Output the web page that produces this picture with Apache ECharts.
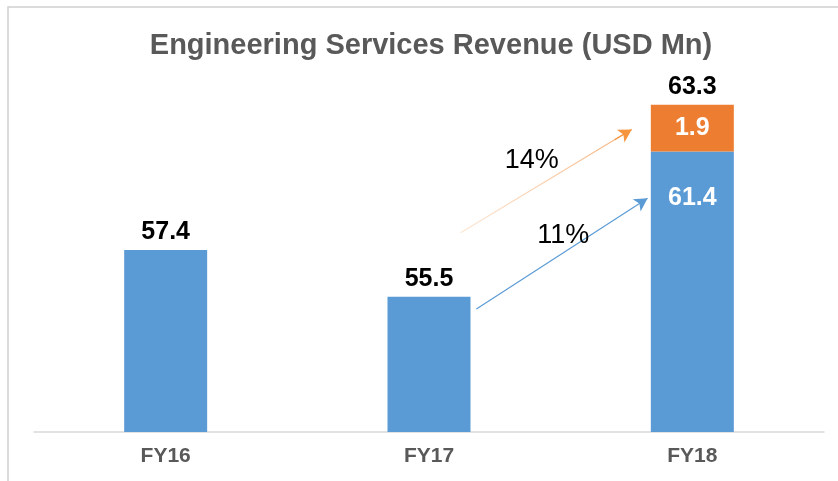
<!DOCTYPE html>
<html>
<head>
<meta charset="utf-8">
<script src="https://cdn.jsdelivr.net/npm/echarts@6/dist/echarts.min.js"></script>
<style>
  html, body { margin: 0; padding: 0; background: #fff; }
</style>
</head>
<body>
<!-- chart box, same size as the window -->
<div id="main" style="width: 838px; height: 481px"></div>
<script>
// data
var categories = ['FY16', 'FY17', 'FY18'];
var baseRevenue = [57.4, 55.5, 61.4];
var addedRevenue = [null, null, 1.9];
var totalRevenue = [null, null, 63.3];
// growth arrows: [start x, start y, end x, end y] in data units (x = category index)
var growthLabels = ['11%', '14%'];
var blueArrow = [1.18, 55.0, 1.83, 59.5];
var orangeArrow = [1.12, 58.1, 1.77, 62.3];
var growthLabelPos = [[1.51, 58.0], [1.39, 61.05]];

var blue = '#5B9BD5';
var orange = '#ED7D31';
var font = '"Liberation Sans", Arial, sans-serif';

var myChart = echarts.init(document.getElementById('main'));

// a bit before the tip, so the head can be drawn solid
function nearTip(a, t) {
  return [a[0] + (a[2] - a[0]) * t, a[1] + (a[3] - a[1]) * t];
}

var option = {
  animation: false,
  title: {
    text: 'Engineering Services Revenue (USD Mn)',
    left: 426,
    textAlign: 'center',
    top: 26,
    textStyle: { fontFamily: font, fontSize: 29, fontWeight: 'bold', color: '#595959' }
  },
  graphic: [{
    type: 'rect',
    shape: { x: 8, y: 7, width: 840, height: 480 },
    style: { fill: 'none', stroke: '#D0D0D0', lineWidth: 1.5 },
    silent: true
  }],
  grid: { left: 34, right: 14, top: 63, bottom: 49 },
  xAxis: [
    {
      type: 'category',
      data: categories,
      axisLine: { lineStyle: { color: '#D9D9D9', width: 1.5 } },
      axisTick: { show: false },
      axisLabel: { margin: 14, fontFamily: font, fontSize: 21, fontWeight: 'bold', color: '#595959' }
    },
    { type: 'value', min: -0.5, max: 2.5, show: false }
  ],
  yAxis: { type: 'value', min: 50, max: 65, show: false },
  series: [
    {
      name: 'base',
      type: 'bar',
      stack: 'rev',
      barWidth: 83,
      itemStyle: { color: blue },
      data: baseRevenue.map(function (v, i) {
        if (addedRevenue[i] == null) return v;
        return {
          value: v,
          label: { position: 'insideTop', distance: 34, color: '#fff' }
        };
      }),
      label: {
        show: true,
        position: 'top',
        distance: 5,
        fontFamily: font, fontSize: 25, fontWeight: 'bold', color: '#000'
      }
    },
    {
      name: 'added',
      type: 'bar',
      stack: 'rev',
      barWidth: 83,
      itemStyle: { color: orange },
      data: addedRevenue,
      label: {
        show: true,
        position: 'inside',
        fontFamily: font, fontSize: 25, fontWeight: 'bold', color: '#fff'
      }
    },
    {
      // zero-height cap on the stack, only carries the total label
      name: 'total',
      type: 'bar',
      stack: 'rev',
      barWidth: 83,
      itemStyle: { color: 'rgba(0,0,0,0)' },
      data: totalRevenue.map(function (v) { return v == null ? null : 0; }),
      label: {
        show: true,
        position: 'top',
        distance: 5,
        formatter: function (p) { return totalRevenue[p.dataIndex]; },
        fontFamily: font, fontSize: 25, fontWeight: 'bold', color: '#000'
      }
    },
    {
      name: 'growth',
      type: 'line',
      xAxisIndex: 1,
      data: [[0, 50]],
      showSymbol: false,
      symbolSize: 0,
      lineStyle: { opacity: 0 },
      markLine: {
        silent: true,
        animation: false,
        symbolSize: [11, 13],
        label: { show: false },
        data: [
          [
            { coord: [blueArrow[0], blueArrow[1]], symbol: 'none' },
            { coord: [blueArrow[2], blueArrow[3]], symbol: 'arrow',
              lineStyle: { color: blue, width: 1.2, type: 'solid' } }
          ],
          [
            { coord: [orangeArrow[0], orangeArrow[1]], symbol: 'none' },
            { coord: nearTip(orangeArrow, 0.96), symbol: 'none',
              lineStyle: {
                width: 1.2, type: 'solid',
                color: new echarts.graphic.LinearGradient(0, 0, 1, 0, [
                  { offset: 0, color: 'rgba(250,215,185,0.6)' },
                  { offset: 1, color: 'rgba(246,170,110,0.9)' }
                ])
              } }
          ],
          [
            { coord: nearTip(orangeArrow, 0.9), symbol: 'none' },
            { coord: [orangeArrow[2], orangeArrow[3]], symbol: 'arrow',
              lineStyle: { color: '#F7953F', width: 1.2, type: 'solid' } }
          ]
        ]
      },
      markPoint: {
        silent: true,
        symbol: 'rect',
        symbolSize: 1,
        itemStyle: { color: 'rgba(0,0,0,0)' },
        label: {
          show: true,
          position: 'inside',
          fontFamily: font, fontSize: 27, color: '#000',
          formatter: function (p) { return p.name; }
        },
        data: growthLabels.map(function (t, i) {
          return { name: t, coord: growthLabelPos[i] };
        })
      }
    }
  ]
};

myChart.setOption(option);
</script>
</body>
</html>
